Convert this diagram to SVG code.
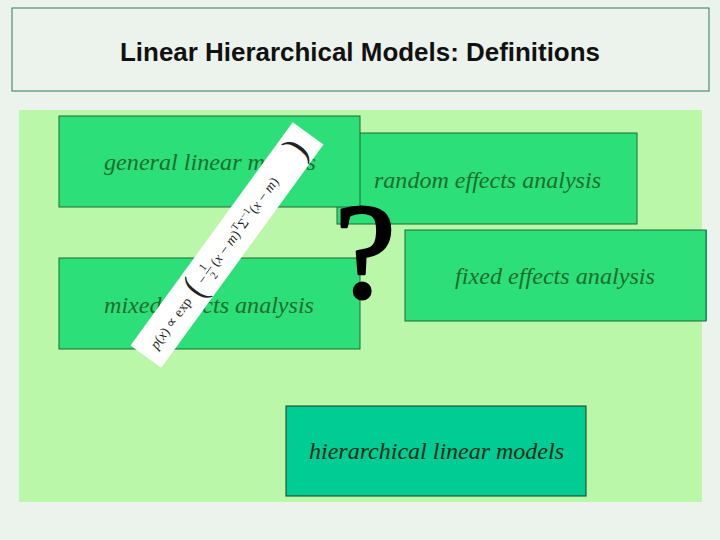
<svg xmlns="http://www.w3.org/2000/svg" width="720" height="540" viewBox="0 0 720 540">
<style>
.box{fill:#2ddf78;stroke:#1f6b34;stroke-width:1}
.lbl{font-family:"Liberation Serif",serif;font-style:italic;font-size:23px;fill:#1b6e2c}
.fm{font-family:"Liberation Serif",serif;font-style:italic;font-size:14px;fill:#222}
.fu{font-family:"Liberation Serif",serif;font-style:normal;font-size:14px;fill:#222}
</style>
<rect x="0" y="0" width="720" height="540" fill="#ecf2ec"/>
<g id="title">
<rect x="12" y="8" width="697" height="83" fill="#ecf2ec" stroke="#2e7a5a" stroke-width="1"/>
<text x="360" y="61" text-anchor="middle" font-family="Liberation Sans, sans-serif" font-weight="bold" font-size="25" textLength="480" lengthAdjust="spacingAndGlyphs" fill="#111">Linear Hierarchical Models: Definitions</text>
</g>
<rect id="panel" x="19" y="110" width="683" height="392" fill="#bbf7a8"/>
<g id="random">
<rect class="box" x="337" y="133" width="300" height="91"/>
<text class="lbl" x="374" y="188" textLength="227" lengthAdjust="spacingAndGlyphs">random effects analysis</text>
</g>
<g id="general">
<rect class="box" x="59" y="116" width="301" height="91"/>
<text class="lbl" x="104" y="170" textLength="212" lengthAdjust="spacingAndGlyphs">general linear models</text>
</g>
<g id="fixed">
<rect x="703" y="230" width="4" height="91" fill="#00c08c"/>
<rect class="box" x="405" y="230" width="301" height="91"/>
<text class="lbl" x="455" y="284" textLength="200" lengthAdjust="spacingAndGlyphs">fixed effects analysis</text>
</g>
<g id="mixed">
<rect class="box" x="59" y="258" width="301" height="91"/>
<text class="lbl" x="104" y="313" textLength="210" lengthAdjust="spacingAndGlyphs">mixed effects analysis</text>
</g>
<g id="hierarchical">
<rect x="286" y="406" width="300" height="90" fill="#00cc94" stroke="#1a3a22" stroke-width="1"/>
<text class="lbl" x="309" y="459" textLength="255" lengthAdjust="spacingAndGlyphs" style="fill:#0d2a16">hierarchical linear models</text>
</g>
<g id="formula" transform="translate(227,245) rotate(-54)">
<rect x="-138" y="-19" width="276" height="38" fill="#ffffff"/>
<text class="fm" x="-126" y="5">p<tspan class="fu">(</tspan>x<tspan class="fu">) ∝ exp</tspan></text>
<text class="fu" x="-60" y="11" style="font-size:38px" transform="scale(0.8,1)" dx="-14">(</text>
<text class="fu" x="-46" y="5">−</text>
<text class="fu" x="-35" y="-3" style="font-size:11px">1</text>
<line x1="-36" y1="0" x2="-27" y2="0" stroke="#222" stroke-width="0.8"/>
<text class="fu" x="-35" y="11" style="font-size:11px">2</text>
<text class="fm" x="-24" y="5"><tspan class="fu">(</tspan>x <tspan class="fu">− </tspan>m<tspan class="fu">)</tspan><tspan class="fu" style="font-size:10px" dy="-6">T</tspan><tspan class="fu" dy="6">Σ</tspan><tspan class="fu" style="font-size:10px" dy="-6">−1</tspan><tspan class="fu" dy="6">(</tspan>x <tspan class="fu">− </tspan>m<tspan class="fu">)</tspan></text>
<text class="fu" x="112" y="11" style="font-size:38px">)</text>
</g>
<g id="question">
<text x="335" y="297" font-family="Liberation Serif, serif" font-size="136" fill="#000" stroke="#000" stroke-width="3" stroke-linejoin="round">?</text>
</g>
<g id="connectors"></g>
</svg>
